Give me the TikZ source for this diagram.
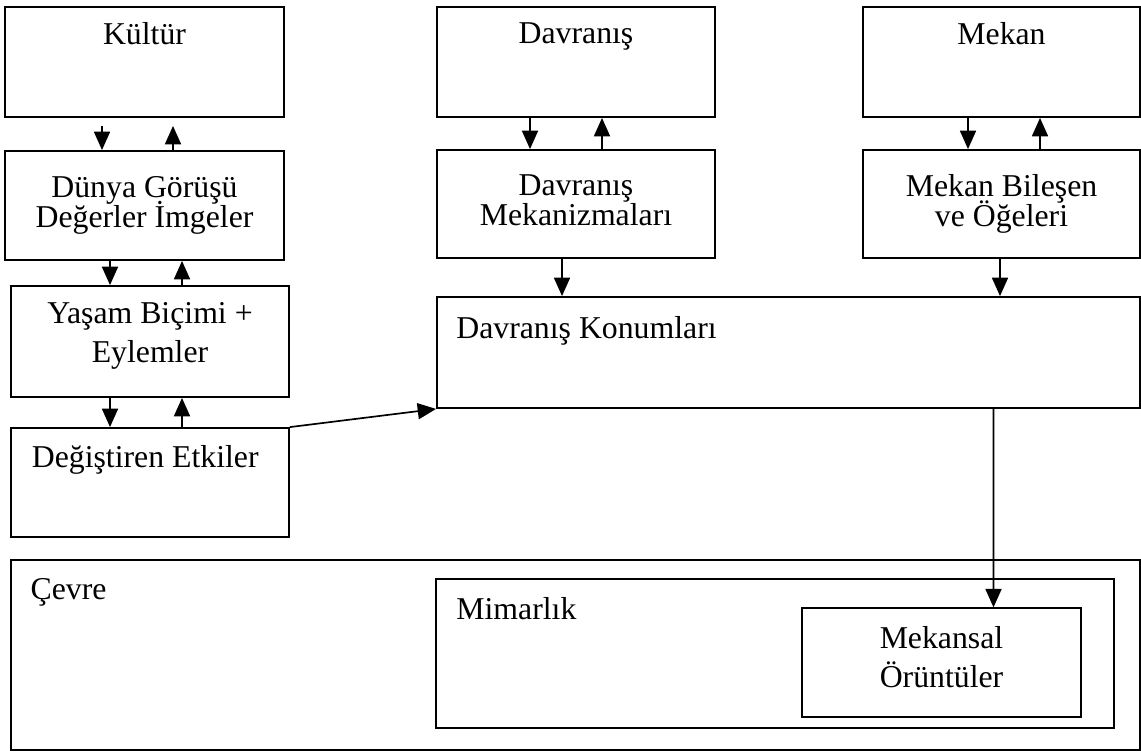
\documentclass[tikz,border=0pt]{standalone}
\usepackage{fontspec}
\setmainfont{Liberation Serif}
\usetikzlibrary{arrows.meta}
\AtBeginDocument{\setlength{\lineskiplimit}{-100pt}}

\begin{document}
\begin{tikzpicture}[
  kutu/.style 2 args={draw=black, line width=1.3pt, minimum width=#1, minimum height=#2, inner sep=0pt},
  ince/.style={line width=0.9pt},
  metin/.style={font=\fontsize{22.6}{21.3}\selectfont, inner sep=0pt, align=center, anchor=north},
  ok/.style={-{Triangle[length=0.46cm,width=0.4cm]}, line width=1.2pt}
]
\useasboundingbox (0,0) rectangle (28.525cm,-18.8cm);

\node[kutu={6.975cm}{2.75cm}] (kultur) at (3.6125cm,-1.55cm) {};
\node[kutu={6.95cm}{2.75cm}] (davranis) at (14.4cm,-1.55cm) {};
\node[kutu={6.925cm}{2.75cm}] (mekan) at (25.0375cm,-1.55cm) {};
\node[kutu={6.975cm}{2.725cm}] (dunya) at (3.6125cm,-5.1375cm) {};
\node[kutu={6.95cm}{2.7cm}] (mekanizma) at (14.4cm,-5.1cm) {};
\node[kutu={6.925cm}{2.7cm}] (bilesen) at (25.0375cm,-5.1cm) {};
\node[kutu={6.95cm}{2.775cm}] (yasam) at (3.75cm,-8.5375cm) {};
\node[kutu={17.575cm}{2.775cm}] (konum) at (19.7125cm,-8.8125cm) {};
\node[kutu={6.95cm}{2.725cm}] (degistiren) at (3.75cm,-12.0625cm) {};
\node[kutu={28.225cm}{4.75cm}, ince] (cevre) at (14.3875cm,-16.375cm) {};
\node[kutu={16.95cm}{3.725cm}] (mimarlik) at (19.375cm,-16.3375cm) {};
\node[kutu={6.975cm}{2.725cm}, ince] (mekansal) at (23.5375cm,-16.5625cm) {};

\node[metin] (kultur-t) at ([yshift=-0.41cm]kultur.north) {Kültür};
\node[metin] (davranis-t) at ([yshift=-0.41cm]davranis.north) {Davranış};
\node[metin] (mekan-t) at ([yshift=-0.41cm]mekan.north) {Mekan};
\node[metin] (dunya-t) at ([yshift=-0.66cm]dunya.north) {Dünya Görüşü\\Değerler İmgeler};
\node[metin] (mekanizma-t) at ([yshift=-0.63cm]mekanizma.north) {Davranış\\Mekanizmaları};
\node[metin] (bilesen-t) at ([yshift=-0.63cm]bilesen.north) {Mekan Bileşen\\ve Öğeleri};
\node[metin] (yasam-t) at ([yshift=-0.43cm]yasam.north) {Yaşam Biçimi +\\[6.4pt]Eylemler};
\node[metin] (degistiren-t) at ([xshift=-0.12cm,yshift=-0.46cm]degistiren.north) {Değiştiren Etkiler};
\node[metin, anchor=north west] (konum-t) at ([xshift=0.5cm,yshift=-0.51cm]konum.north west) {Davranış Konumları};
\node[metin, anchor=north west] (cevre-t) at ([xshift=0.5cm,yshift=-0.47cm]cevre.north west) {Çevre};
\node[metin, anchor=north west] (mimarlik-t) at ([xshift=0.525cm,yshift=-0.48cm]mimarlik.north west) {Mimarlık};
\node[metin] (mekansal-t) at ([yshift=-0.46cm]mekansal.north) {Mekansal\\[6.4pt]Örüntüler};

\draw[ok] ([xshift=-1.0625cm,yshift=-0.2cm]kultur.south) -- ([xshift=-1.0625cm]dunya.north);
\draw[ok] ([xshift=0.7125cm]dunya.north) -- ([xshift=0.7125cm,yshift=-0.2cm]kultur.south);
\draw[ok] ([xshift=-0.8625cm]dunya.south) -- ([xshift=-1cm]yasam.north);
\draw[ok] ([xshift=0.8cm]yasam.north) -- ([xshift=0.9375cm]dunya.south);
\draw[ok] ([xshift=-1cm]yasam.south) -- ([xshift=-1cm]degistiren.north);
\draw[ok] ([xshift=0.8cm]degistiren.north) -- ([xshift=0.8cm]yasam.south);
\draw[ok] ([xshift=-1.15cm]davranis.south) -- ([xshift=-1.15cm]mekanizma.north);
\draw[ok] ([xshift=0.65cm]mekanizma.north) -- ([xshift=0.65cm]davranis.south);
\draw[ok] ([xshift=-0.8375cm]mekan.south) -- ([xshift=-0.8375cm]bilesen.north);
\draw[ok] ([xshift=0.9625cm]bilesen.north) -- ([xshift=0.9625cm]mekan.south);
\draw[ok] ([xshift=-0.35cm]mekanizma.south) -- ([xshift=-5.6625cm]konum.north);
\draw[ok] ([xshift=-0.0375cm]bilesen.south) -- ([xshift=5.2875cm]konum.north);
\draw[ok] (degistiren.north east) -- (konum.south west);
\draw[ok] ([xshift=5.125cm]konum.south) -- ([xshift=1.3cm]mekansal.north);
\end{tikzpicture}
\end{document}
